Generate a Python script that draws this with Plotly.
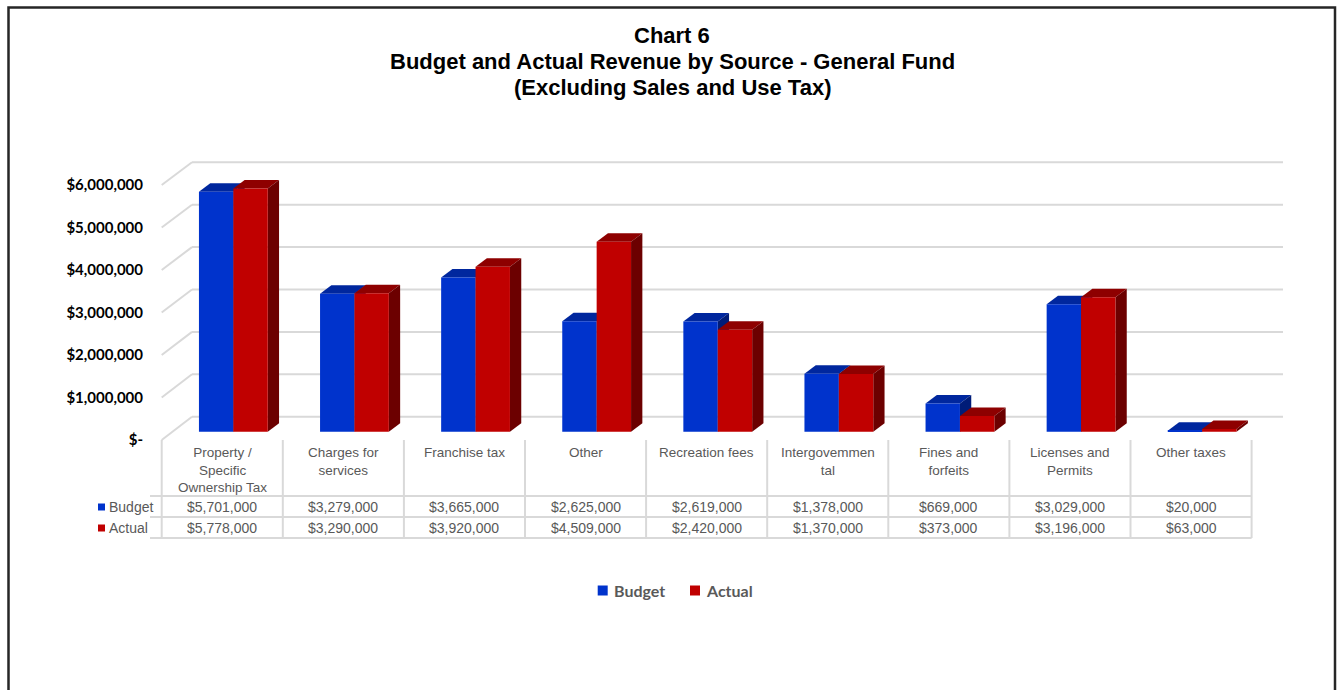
import plotly.graph_objects as go

# ---------------- data ----------------
categories = ["Property / Specific Ownership Tax", "Charges for services", "Franchise tax",
              "Other", "Recreation fees", "Intergovernmental", "Fines and forfeits",
              "Licenses and Permits", "Other taxes"]
category_labels = ["Property /<br>Specific<br>Ownership Tax", "Charges for<br>services",
                   "Franchise tax", "Other", "Recreation fees", "Intergovemmen<br>tal",
                   "Fines and<br>forfeits", "Licenses and<br>Permits", "Other taxes"]
budget = [5701000, 3279000, 3665000, 2625000, 2619000, 1378000, 669000, 3029000, 20000]
actual = [5778000, 3290000, 3920000, 4509000, 2420000, 1370000, 373000, 3196000, 63000]
series_names = ["Budget", "Actual"]
y_tick_values = [0, 1000000, 2000000, 3000000, 4000000, 5000000, 6000000]
y_tick_labels = ["$-", "$1,000,000", "$2,000,000", "$3,000,000", "$4,000,000",
                 "$5,000,000", "$6,000,000"]
title_lines = ["Chart 6", "Budget and Actual Revenue by Source - General Fund",
               "(Excluding Sales and Use Tax)"]

# ---------------- layout geometry (pixels) ----------------
W, H = 1337, 690
L, R, T, B = 150, 1295, 140, 460
X0_PX = 172.8          # bar plane: x pixel of category origin
CAT_PX = 121.1         # pixels per category
Y0_PX = 431.7          # bar plane: y pixel of value 0
PPD = 42.1 / 1e6       # bar plane pixels per dollar
FRONT_SCALE = 42.5 / 1e6
BACK_SCALE = 42.4 / 1e6

xr = [(L - X0_PX) / CAT_PX, (R - X0_PX) / CAT_PX]
yr = [-(B - Y0_PX) / PPD, (Y0_PX - T) / PPD]


def xd(px):          # pixel -> x data
    return (px - X0_PX) / CAT_PX


def yd(py):          # pixel -> y data
    return (Y0_PX - py) / PPD


def py_paper(py):     # pixel -> paper y
    return (B - py) / (B - T)


def px_paper(px):
    return (px - L) / (R - L)


def front_y(v):
    return yd(440.0 - v * FRONT_SCALE)


def back_y(v):
    return yd(416.7 - v * BACK_SCALE)


BLUE, BLUE_TOP, BLUE_SIDE = "#0033CC", "#00279E", "#001C78"
RED, RED_TOP, RED_SIDE = "#C00000", "#8E0000", "#6C0000"
GRID = "#D9D9D9"
TXT = "#595959"

BAR_W = 34.4 / CAT_PX
DDX = 11.3 / CAT_PX
DDY = 8.5 / PPD

fig = go.Figure()
xs = [i + 0.5 for i in range(len(categories))]
fig.add_trace(go.Bar(x=xs, y=budget, name=series_names[0], width=BAR_W, offset=-BAR_W,
                     marker=dict(color=BLUE, line=dict(width=0)), showlegend=False,
                     customdata=categories, hovertemplate="%{customdata}<br>Budget: $%{y:,}<extra></extra>"))
fig.add_trace(go.Bar(x=xs, y=actual, name=series_names[1], width=BAR_W, offset=0,
                     marker=dict(color=RED, line=dict(width=0)), showlegend=False,
                     customdata=categories, hovertemplate="%{customdata}<br>Actual: $%{y:,}<extra></extra>"))

shapes = []
# back wall gridlines and left wall diagonals
bx0, bx1 = xd(192.0), xd(1283.0)
fx0 = xd(161.7)
for v in y_tick_values:
    shapes.append(dict(type="line", xref="x", yref="y", x0=bx0, x1=bx1, y0=back_y(v), y1=back_y(v),
                       line=dict(color=GRID, width=2), layer="below"))
    shapes.append(dict(type="line", xref="x", yref="y", x0=fx0, x1=bx0, y0=front_y(v), y1=back_y(v),
                       line=dict(color=GRID, width=2), layer="below"))


def box_faces(xl, h, top_col, side_col):
    xr_ = xl + BAR_W
    top = (f"M{xl},{h} L{xr_},{h} L{xr_ + DDX},{h + DDY} L{xl + DDX},{h + DDY} Z")
    side = (f"M{xr_},0 L{xr_},{h} L{xr_ + DDX},{h + DDY} L{xr_ + DDX},{DDY} Z")
    return [dict(type="path", xref="x", yref="y", path=top, fillcolor=top_col,
                 line=dict(width=0), layer="below"),
            dict(type="path", xref="x", yref="y", path=side, fillcolor=side_col,
                 line=dict(width=0), layer="below")]


for i, x in enumerate(xs):
    shapes += box_faces(x - BAR_W, budget[i], BLUE_TOP, BLUE_SIDE)
    shapes += box_faces(x, actual[i], RED_TOP, RED_SIDE)

# ---------------- data table ----------------
tbl_left = xd(95.0)
col0 = fx0
n = len(categories)
for i in range(n + 1):
    shapes.append(dict(type="line", xref="x", yref="paper", x0=col0 + i, x1=col0 + i,
                       y0=py_paper(440), y1=py_paper(538), line=dict(color=GRID, width=2)))
shapes.append(dict(type="line", xref="x", yref="paper", x0=tbl_left, x1=tbl_left,
                   y0=py_paper(496), y1=py_paper(538), line=dict(color=GRID, width=2)))
for rowy in [496, 517, 538]:
    shapes.append(dict(type="line", xref="x", yref="paper", x0=tbl_left, x1=col0 + n,
                       y0=py_paper(rowy), y1=py_paper(rowy), line=dict(color=GRID, width=2)))

annotations = []
for i in range(n):
    cx = col0 + i + 0.5
    annotations.append(dict(xref="x", yref="paper", x=cx, y=py_paper(443), yanchor="top",
                            xanchor="center", text=category_labels[i], showarrow=False,
                            font=dict(family="Liberation Sans", size=13.5, color=TXT)))
    annotations.append(dict(xref="x", yref="paper", x=cx, y=py_paper(507), yanchor="middle",
                            xanchor="center", text=f"${budget[i]:,.0f}", showarrow=False,
                            font=dict(family="Liberation Sans", size=14, color=TXT)))
    annotations.append(dict(xref="x", yref="paper", x=cx, y=py_paper(528), yanchor="middle",
                            xanchor="center", text=f"${actual[i]:,.0f}", showarrow=False,
                            font=dict(family="Liberation Sans", size=14, color=TXT)))

for name, col, rowy in [(series_names[0], BLUE, 507), (series_names[1], RED, 528)]:
    shapes.append(dict(type="rect", xref="paper", yref="paper", x0=px_paper(98), x1=px_paper(105),
                       y0=py_paper(rowy + 3.5), y1=py_paper(rowy - 3.5), fillcolor=col, line=dict(width=0)))
    annotations.append(dict(xref="paper", yref="paper", x=px_paper(106.5), y=py_paper(rowy),
                            xanchor="left", yanchor="middle", text=name, showarrow=False,
                            font=dict(family="Liberation Sans", size=14, color=TXT)))

# ---------------- legend ----------------
for name, col, sq_x, tx_x in [(series_names[0], BLUE, 597.7, 611.5), (series_names[1], RED, 690.0, 703.5)]:
    shapes.append(dict(type="rect", xref="paper", yref="paper", x0=px_paper(sq_x), x1=px_paper(sq_x + 10),
                       y0=py_paper(595.5), y1=py_paper(585.5), fillcolor=col, line=dict(width=0)))
    annotations.append(dict(xref="paper", yref="paper", x=px_paper(tx_x), y=py_paper(590.5),
                            xanchor="left", yanchor="middle", text=f"<b>{name}</b>", showarrow=False,
                            font=dict(family="Lato", size=16, color=TXT)))

# ---------------- title ----------------
for k, line in enumerate(title_lines):
    annotations.append(dict(xref="paper", yref="paper", x=px_paper(672), y=py_paper(35 + 26 * k),
                            xanchor="center", yanchor="middle", text=f"<b>{line}</b>", showarrow=False,
                            font=dict(family="Liberation Sans", size=22, color="#000000")))

# frame
shapes.append(dict(type="rect", xref="paper", yref="paper", x0=px_paper(8.5), x1=px_paper(1335),
                   y0=py_paper(700), y1=py_paper(7.5), line=dict(color="#262626", width=2.5)))

fig.update_layout(
    width=W, height=H, autosize=False,
    margin=dict(l=L, r=W - R, t=T, b=H - B),
    paper_bgcolor="white", plot_bgcolor="rgba(0,0,0,0)",
    barmode="overlay",
    xaxis=dict(range=xr, visible=False, fixedrange=True),
    yaxis=dict(range=yr, tickvals=[front_y(v) for v in y_tick_values], ticktext=y_tick_labels,
               showgrid=False, zeroline=False, showline=False, ticks="", ticklabelstandoff=6,
               tickfont=dict(family="Lato", size=15, color="#000000", weight="bold"), fixedrange=True),
    shapes=shapes, annotations=annotations, showlegend=False,
)

fig.write_html("out.html")
